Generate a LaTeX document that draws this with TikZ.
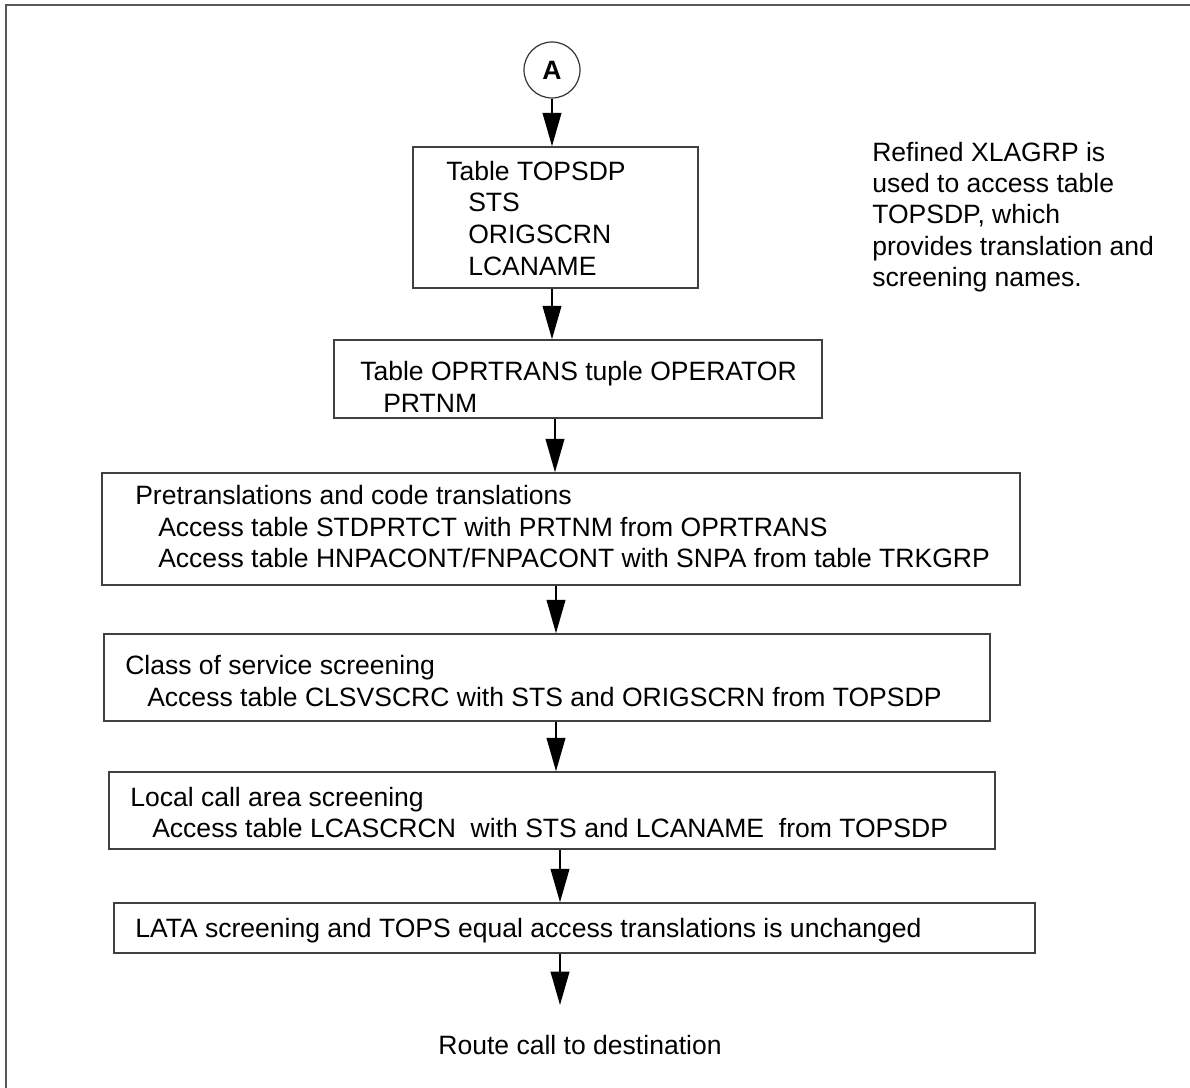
\documentclass[tikz,border=0pt]{standalone}
\usepackage{fontspec}
\setmainfont{Liberation Sans}
\usetikzlibrary{fit,arrows.meta}
\begin{document}
\begin{tikzpicture}[x=0.75pt,y=-0.75pt,
  box/.style={draw=black!75, line width=1.1pt, inner sep=0pt},
  txt/.style={anchor=base west, inner sep=0pt, font=\fontsize{19.9}{23.6}\selectfont},
  ctxt/.style={anchor=base, inner sep=0pt, font=\fontsize{19.9}{23.6}\selectfont},
  arr/.style={-{Triangle[length=25pt,width=14pt]}, line width=1.3pt},
  frame/.style={draw=black!65, line width=1.6pt}]
\useasboundingbox (0,0) rectangle (1190,1088);
\draw[frame] (6,1088) -- (6,5) -- (1190,5);

% connector node A
\node[circle, draw=black!80, line width=0.9pt, minimum size=42pt, inner sep=0pt,
      font=\fontsize{19.9}{23.6}\selectfont\bfseries] (A) at (552,70) {A};

% boxes
\node[box, fit={(413,147) (698,288)}] (b1) {};
\node[box, fit={(334,340) (822,418)}] (b2) {};
\node[box, fit={(102,473) (1020,585)}] (b3) {};
\node[box, fit={(104,634) (990,721)}] (b4) {};
\node[box, fit={(109,772) (995,849)}] (b5) {};
\node[box, fit={(114,903) (1035,953)}] (b6) {};

% box texts
\node[txt] (t1a) at (446,180.5) {Table TOPSDP};
\node[txt] (t1b) at (468,211.5) {STS};
\node[txt] (t1c) at (468,243.5) {ORIGSCRN};
\node[txt] (t1d) at (468,275.5) {LCANAME};

\node[txt] (t2a) at (360,380.5) {Table OPRTRANS tuple OPERATOR};
\node[txt] (t2b) at (383,412) {PRTNM};

\node[txt] (t3a) at (135,504.5) {Pretranslations and code translations};
\node[txt] (t3b) at (158,536.5) {Access table STDPRTCT with PRTNM from OPRTRANS};
\node[txt] (t3c) at (158,567.5) {Access table HNPACONT/FNPACONT with SNPA from table TRKGRP};

\node[txt] (t4a) at (125,674.5) {Class of service screening};
\node[txt] (t4b) at (147,706.5) {Access table CLSVSCRC with STS and ORIGSCRN from TOPSDP};

\node[txt] (t5a) at (130,806.5) {Local call area screening};
\node[txt] (t5b) at (152,837.5) {Access table LCASCRCN\ \ with STS and LCANAME\ \ from TOPSDP};

\node[txt] (t6a) at (135,937.5) {LATA screening and TOPS equal access translations is unchanged};

% side note
\node[txt] (n1) at (872,161.5) {Refined XLAGRP is};
\node[txt] (n2) at (872,192.5) {used to access table};
\node[txt] (n3) at (872,223.5) {TOPSDP, which};
\node[txt] (n4) at (872,255.5) {provides translation and};
\node[txt] (n5) at (872,286.5) {screening names.};

% final text
\node[ctxt] (route) at (580,1054.5) {Route call to destination};
\coordinate (rtop) at (560,1005);

% arrow columns
\coordinate (x1) at (552,0);
\coordinate (x2) at (555,0);
\coordinate (x3) at (556,0);
\coordinate (x4) at (560,0);

\draw[arr] (A.south) -- (b1.north -| A);
\draw[arr] (b1.south -| x1) -- (b2.north -| x1);
\draw[arr] (b2.south -| x2) -- (b3.north -| x2);
\draw[arr] (b3.south -| x3) -- (b4.north -| x3);
\draw[arr] (b4.south -| x3) -- (b5.north -| x3);
\draw[arr] (b5.south -| x4) -- (b6.north -| x4);
\draw[arr] (b6.south -| x4) -- (rtop);
\end{tikzpicture}
\end{document}
